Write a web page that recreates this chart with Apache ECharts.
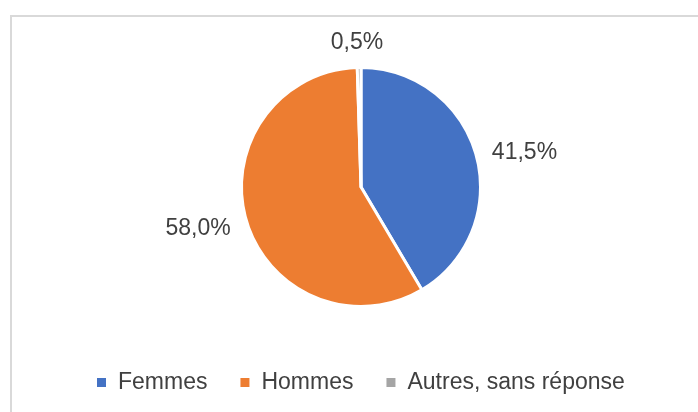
<!DOCTYPE html>
<html>
<head>
<meta charset="utf-8">
<script src="https://cdn.jsdelivr.net/npm/echarts@6/dist/echarts.min.js"></script>
<style>html,body{margin:0;padding:0;background:#fff}#c{width:698px;height:412px}</style>
</head>
<body>
<div id="c"></div>
<script>
const categories = ['Femmes', 'Hommes', 'Autres, sans réponse'];
const values = [41.5, 58.0, 0.5];
const colors = ['#4472C4', '#ED7D31', '#A5A5A5'];

const chart = echarts.init(document.getElementById('c'), null, {renderer: 'canvas'});
chart.setOption({
  backgroundColor: '#ffffff',
  animation: false,
  color: colors,
  graphic: [{
    type: 'rect', silent: true, z: -10,
    shape: {x: 11, y: 16, width: 800, height: 500},
    style: {fill: 'none', stroke: '#d9d9d9', lineWidth: 2}
  }],
  legend: {
    data: categories,
    left: 95, top: 371, padding: 0,
    orient: 'horizontal',
    itemWidth: 11, itemHeight: 11, itemGap: 31,
    icon: 'path://M0,0L10,0L10,10L0,10Z',
    textStyle: {color: '#404040', fontSize: 23, fontFamily: 'Liberation Sans', padding: [0, 0, 0, 6]}
  },
  series: [{
    type: 'pie',
    center: [361, 187],
    radius: 119.5,
    startAngle: 90,
    clockwise: true,
    avoidLabelOverlap: false,
    itemStyle: {borderColor: '#ffffff', borderWidth: 3},
    label: {
      show: true, position: 'outside',
      formatter: p => p.value.toFixed(1).replace('.', ',') + '%',
      color: '#404040', fontSize: 23, fontFamily: 'Liberation Sans'
    },
    labelLine: {show: false, length: 11, length2: 0},
    labelLayout: function (p) {
      if (p.dataIndex === 1) return {dy: 5};
      if (p.dataIndex === 2) return {align: 'center', dx: 3, dy: -14};
      return {};
    },
    emphasis: {disabled: true},
    data: categories.map((n, i) => ({name: n, value: values[i]}))
  }]
});
</script>
</body>
</html>
